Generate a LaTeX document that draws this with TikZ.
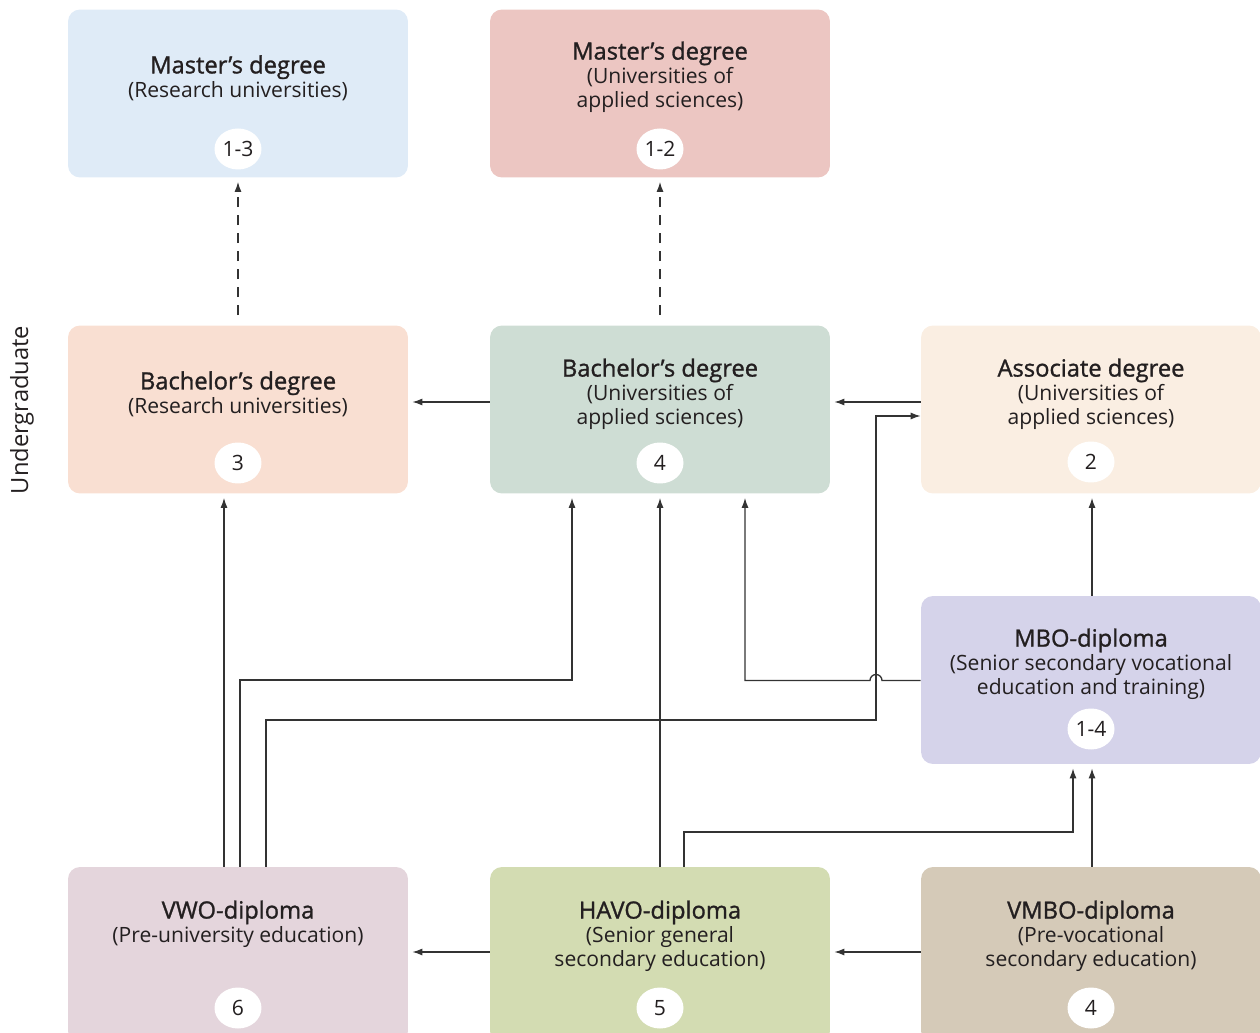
\documentclass[tikz,border=0pt]{standalone}
\usepackage{fontspec}
\setmainfont{Open Sans}
\IfFontExistsTF{Open Sans SemiBold}{\newfontfamily\headfont{Open Sans SemiBold}}{\newfontfamily\headfont{Open Sans}[FakeBold=1.2]}
\usetikzlibrary{arrows.meta,shapes.geometric}

\definecolor{ink}{HTML}{231F20}
\definecolor{wire}{HTML}{333333}
\definecolor{cMR}{HTML}{DFEBF7}
\definecolor{cMU}{HTML}{ECC6C2}
\definecolor{cBR}{HTML}{F9DFD2}
\definecolor{cBU}{HTML}{CEDDD4}
\definecolor{cAD}{HTML}{FAEEE2}
\definecolor{cMBO}{HTML}{D5D3EA}
\definecolor{cVWO}{HTML}{E4D5DC}
\definecolor{cHAVO}{HTML}{D3DCB2}
\definecolor{cVMBO}{HTML}{D5CAB8}

\newcommand{\headline}[1]{{\headfont\fontsize{13.5}{13.6}\selectfont #1}}

\tikzset{
  box/.style={rounded corners=0.24cm, minimum width=6.8cm, minimum height=3.36cm, inner sep=0pt},
  lbl/.style={align=center, text=ink, inner sep=0pt, font=\fontsize{12}{13.6}\selectfont},
  num/.style={ellipse, fill=white, text=ink, minimum width=0.94cm, minimum height=0.82cm, inner sep=0pt, font=\fontsize{12}{13.6}\selectfont},
  arr/.style={draw=wire, line width=0.75pt, -{Latex[length=0.2cm,width=0.14cm]}, shorten >=0.08cm},
}

\begin{document}
\begin{tikzpicture}[x=0.02cm, y=-0.02cm]
\clip (0,0) rectangle (1260,1033);

\node[box, fill=cMR] (mR) at (238,93.5) {};
\node[box, fill=cMU] (mU) at (660,93.5) {};
\node[box, fill=cBR] (bR) at (238,409.5) {};
\node[box, fill=cBU] (bU) at (660,409.5) {};
\node[box, fill=cAD] (ad) at (1091,409.5) {};
\node[box, fill=cMBO] (mbo) at (1091,680) {};
\node[box, fill=cVWO, minimum height=3.52cm] (vwo) at (238,955) {};
\node[box, fill=cHAVO, minimum height=3.52cm] (havo) at (660,955) {};
\node[box, fill=cVMBO, minimum height=3.52cm] (vmbo) at (1091,955) {};

\node[lbl] (mRt) at (238,78) {\headline{Master’s degree}\\(Research universities)};
\node[lbl] (mUt) at (660,77) {\headline{Master’s degree}\\(Universities of\\applied sciences)};
\node[lbl] (bRt) at (238,394) {\headline{Bachelor’s degree}\\(Research universities)};
\node[lbl] (bUt) at (660,394) {\headline{Bachelor’s degree}\\(Universities of\\applied sciences)};
\node[lbl] (adt) at (1091,394) {\headline{Associate degree}\\(Universities of\\applied sciences)};
\node[lbl] (mbot) at (1091,664) {\headline{MBO-diploma}\\(Senior secondary vocational\\education and training)};
\node[lbl] (vwot) at (238,924) {\headline{VWO-diploma}\\(Pre-university education)};
\node[lbl] (havot) at (660,936) {\headline{HAVO-diploma}\\(Senior general\\secondary education)};
\node[lbl] (vmbot) at (1091,936) {\headline{VMBO-diploma}\\(Pre-vocational\\secondary education)};

\node[num] (mRn) at (238,149) {1-3};
\node[num] (mUn) at (660,149) {1-2};
\node[num] (bRn) at (238,463) {3};
\node[num] (bUn) at (660,463) {4};
\node[num] (adn) at (1091,462) {2};
\node[num] (mbon) at (1091,729) {1-4};
\node[num] (vwon) at (238,1008) {6};
\node[num] (havon) at (660,1008) {5};
\node[num] (vmbon) at (1091,1008) {4};

\node[lbl, rotate=90, font=\fontsize{13.5}{14}\selectfont] (ug) at (22,410) {Undergraduate};

\draw[arr, dash pattern=on 0.2cm off 0.16cm, shorten <=0.2cm] (bR.north) -- (mR.south);
\draw[arr, dash pattern=on 0.2cm off 0.16cm, shorten <=0.2cm] (bU.north) -- (mU.south);

\draw[arr] (bU.west |- 0,402) -- (bR.east |- 0,402);
\draw[arr] (ad.west |- 0,402) -- (bU.east |- 0,402);
\draw[arr] (havo.west |- 0,952) -- (vwo.east |- 0,952);
\draw[arr] (vmbo.west |- 0,952) -- (havo.east |- 0,952);

\draw[arr] (vwo.north -| 224,0) -- (bR.south -| 224,0);
\draw[arr] (vwo.north -| 240,0) |- (572,680) -- (bU.south -| 572,0);
\draw[arr, shorten >=0pt] (vwo.north -| 266,0) |- (876,720) |- (ad.west |- 0,416);
\draw[arr] (havo.north) -- (bU.south);
\draw[arr] (havo.north -| 684,0) |- (1073,832) -- (mbo.south -| 1073,0);
\draw[arr] (vmbo.north -| 1092,0) -- (mbo.south -| 1092,0);
\draw[arr] (mbo.north -| 1092,0) -- (ad.south -| 1092,0);
\draw[arr] (mbo.west |- 0,680.5) -- (882,680.5) arc[start angle=0, end angle=180, radius=0.12cm] -- (745,680.5) -- (bU.south -| 745,0);
\end{tikzpicture}
\end{document}
